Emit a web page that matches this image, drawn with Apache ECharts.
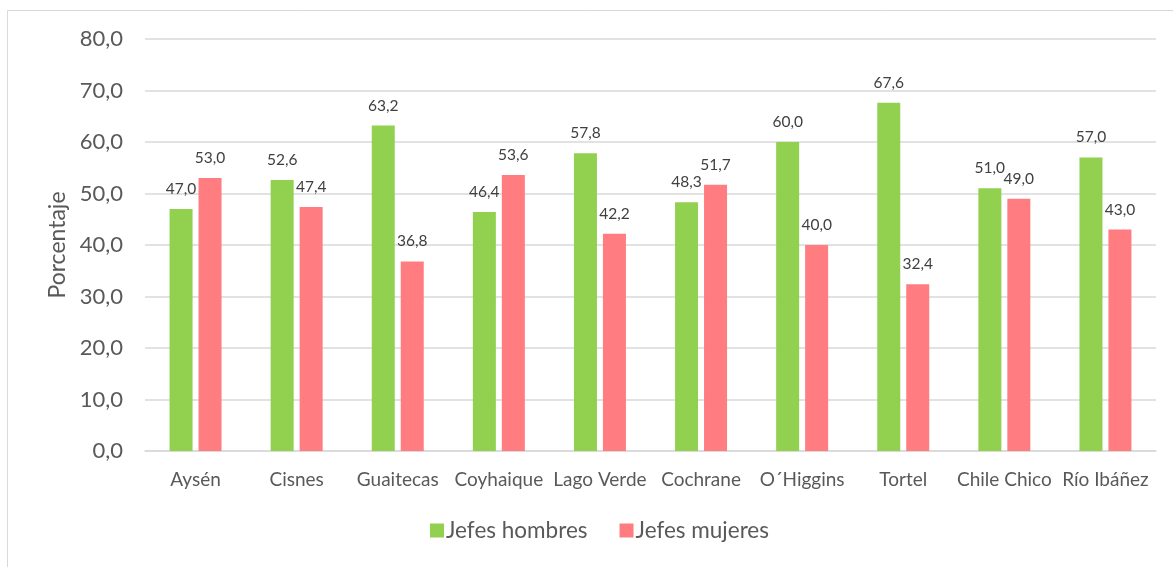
<!DOCTYPE html>
<html>
<head>
<meta charset="utf-8">
<script src="https://cdn.jsdelivr.net/npm/echarts@6/dist/echarts.min.js"></script>
<style>
html,body{margin:0;padding:0;background:#fff;}
#chart{width:1173px;height:567px;}
</style>
</head>
<body>
<div id="chart"></div>
<script>
const categories = ['Aysén','Cisnes','Guaitecas','Coyhaique','Lago Verde','Cochrane','O´Higgins','Tortel','Chile Chico','Río Ibáñez'];
const jefesHombres = [47.0, 52.6, 63.2, 46.4, 57.8, 48.3, 60.0, 67.6, 51.0, 57.0];
const jefesMujeres = [53.0, 47.4, 36.8, 53.6, 42.2, 51.7, 40.0, 32.4, 49.0, 43.0];
const seriesNames = ['Jefes hombres','Jefes mujeres'];
const yTicks = {min: 0, max: 80, interval: 10};

const FONT = 'Lato';
const TXT = '#595959';
const fmt = v => v.toFixed(1).replace('.', ',');

const chart = echarts.init(document.getElementById('chart'));
chart.setOption({
  animation: false,
  textStyle: {fontFamily: FONT},
  graphic: [{
    type: 'rect',
    shape: {x: 7.5, y: 10.5, width: 1200, height: 600},
    style: {fill: 'none', stroke: '#d9d9d9', lineWidth: 1},
    silent: true, z: -1
  }],
  grid: {left: 145, right: 17, top: 39, bottom: 116},
  legend: {
    data: seriesNames,
    bottom: 20,
    left: 425,
    itemWidth: 14,
    itemHeight: 14,
    itemGap: 32,
    icon: 'rect',
    textStyle: {fontFamily: FONT, fontSize: 22.5, color: TXT, padding: [0, 0, 0, -3]}
  },
  xAxis: {
    type: 'category',
    data: categories,
    axisLine: {lineStyle: {color: '#d9d9d9', width: 1.5}},
    axisTick: {show: false},
    axisLabel: {fontFamily: FONT, fontSize: 19, color: TXT, margin: 19, interval: 0}
  },
  yAxis: {
    type: 'value',
    min: yTicks.min, max: yTicks.max, interval: yTicks.interval,
    name: 'Porcentaje',
    nameLocation: 'middle',
    nameGap: 76,
    nameTextStyle: {fontFamily: FONT, fontSize: 23, color: TXT},
    axisLine: {show: false},
    axisTick: {show: false},
    splitLine: {lineStyle: {color: '#d9d9d9', width: 1.5}},
    axisLabel: {fontFamily: FONT, fontSize: 22, color: TXT, margin: 22, formatter: v => fmt(v)}
  },
  series: [
    {
      name: seriesNames[0], type: 'bar', data: jefesHombres,
      itemStyle: {color: '#92D050'},
      barWidth: 23, barGap: '26%',
      label: {show: true, position: 'top', distance: 12, fontFamily: FONT, fontSize: 15.5, color: '#404040', formatter: p => fmt(p.value)}
    },
    {
      name: seriesNames[1], type: 'bar', data: jefesMujeres,
      itemStyle: {color: '#FF7C80'},
      barWidth: 23, barGap: '26%',
      label: {show: true, position: 'top', distance: 12, fontFamily: FONT, fontSize: 15.5, color: '#404040', formatter: p => fmt(p.value)}
    }
  ]
});
</script>
</body>
</html>
